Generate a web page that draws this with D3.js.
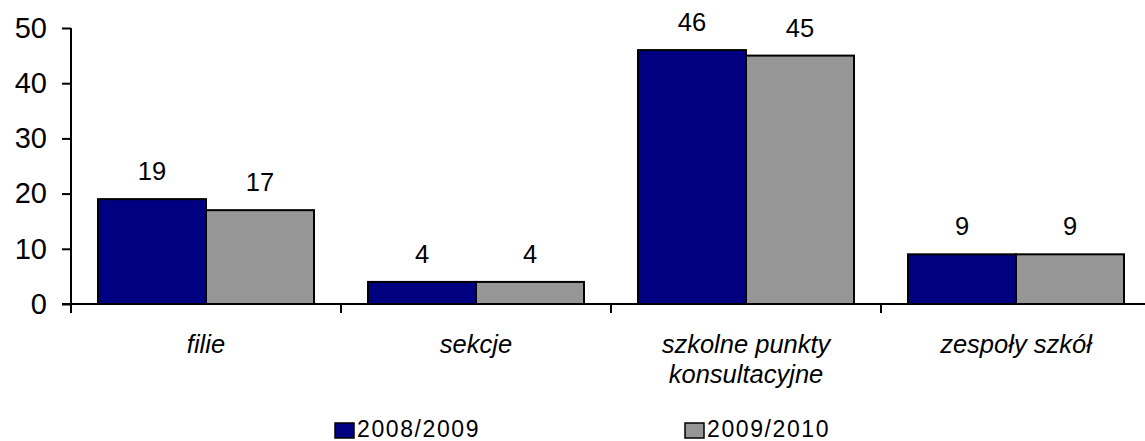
<!DOCTYPE html>
<html>
<head>
<meta charset="utf-8">
<script src="https://cdn.jsdelivr.net/npm/d3@7"></script>
<style>
  html, body { margin: 0; padding: 0; background: #fff; }
  svg { display: block; }
  text { font-family: "Liberation Sans", Arial, sans-serif; fill: #000; }
</style>
</head>
<body>
<svg id="chart" width="1145" height="441"></svg>
<script>
const categories = ["filie", "sekcje", "szkolne punkty|konsultacyjne", "zespoły szkół"];
const seriesNames = ["2008/2009", "2009/2010"];
const values2008 = [19, 4, 46, 9];
const values2009 = [17, 4, 45, 9];
const yTicks = [0, 10, 20, 30, 40, 50];
const colors = ["#000080", "#969696"];

const seriesValues = [values2008, values2009];
const svg = d3.select("#chart");

const x0 = d3.scaleBand().domain(categories).range([71, 1151]).padding(0);
const x1 = d3.scaleBand().domain(seriesNames).range([0, x0.bandwidth()]).paddingInner(0).paddingOuter(0.25);
const y = d3.scaleLinear().domain([0, 50]).range([304, 28]);

// bars
categories.forEach((c, ci) => {
  const g = svg.append("g").attr("transform", `translate(${x0(c)},0)`);
  seriesNames.forEach((s, si) => {
    const v = seriesValues[si][ci];
    g.append("rect")
      .attr("x", x1(s))
      .attr("y", y(v))
      .attr("width", x1.bandwidth())
      .attr("height", y(0) - y(v))
      .attr("fill", colors[si])
      .attr("stroke", "#000")
      .attr("stroke-width", 2);
    g.append("text")
      .attr("x", x1(s) + x1.bandwidth() / 2)
      .attr("y", y(v) - 19)
      .attr("text-anchor", "middle")
      .attr("font-size", 25.5)
      .text(v);
  });
});

// y axis
const yAxis = d3.axisLeft(y).tickValues(yTicks).tickSize(9).tickPadding(15).tickFormat(d3.format("d"));
const gy = svg.append("g").attr("transform", "translate(71,0)").call(yAxis);
gy.select(".domain").attr("stroke", "#000").attr("stroke-width", 2).attr("d", `M0,${y(50)}V${y(0)}`);
gy.selectAll(".tick line").attr("stroke", "#000").attr("stroke-width", 2);
gy.selectAll(".tick text").attr("font-size", 29).attr("font-family", "Liberation Sans, Arial, sans-serif").attr("fill", "#000");

// x axis
const xg = svg.append("g");
xg.append("line").attr("x1", 62).attr("x2", 1145).attr("y1", y(0)).attr("y2", y(0))
  .attr("stroke", "#000").attr("stroke-width", 2);
const boundaries = categories.map(c => x0(c)).concat([x0(categories[categories.length - 1]) + x0.bandwidth()]);
boundaries.forEach(b => {
  xg.append("line").attr("x1", b).attr("x2", b).attr("y1", y(0)).attr("y2", y(0) + 9)
    .attr("stroke", "#000").attr("stroke-width", 2);
});
categories.forEach(c => {
  const lines = c.split("|");
  const t = xg.append("text")
    .attr("text-anchor", "middle")
    .attr("font-size", 25.5)
    .attr("font-style", "italic");
  lines.forEach((ln, i) => {
    t.append("tspan").attr("x", x0(c) + x0.bandwidth() / 2).attr("y", 353 + i * 30).text(ln);
  });
});

// legend
const legendX = [335, 685];
seriesNames.forEach((s, i) => {
  const lg = svg.append("g");
  lg.append("rect").attr("x", legendX[i]).attr("y", 423).attr("width", 19).attr("height", 15)
    .attr("fill", colors[i]).attr("stroke", "#000").attr("stroke-width", 1.5);
  lg.append("text").attr("x", legendX[i] + 22).attr("y", 437)
    .attr("font-size", 23).attr("letter-spacing", 1.6).text(s);
});
</script>
</body>
</html>
